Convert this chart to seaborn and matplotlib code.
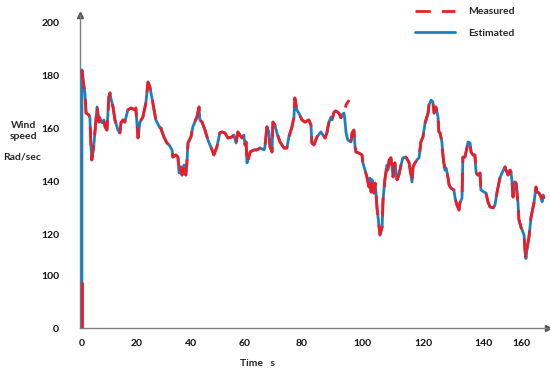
import numpy as np
import pandas as pd
import matplotlib
matplotlib.use("Agg")
import matplotlib.pyplot as plt
from matplotlib.lines import Line2D
import seaborn as sns

# time (s) and estimated wind speed (rad/sec)
time_s = [
    0, 0, 0.4, 1.1, 1.5, 2.5, 2.9, 3.3, 3.6, 4.4, 5.1, 5.5, 6.2, 6.5, 7.3, 8.0, 8.4, 9.1, 9.8, 10.2,
    10.5, 11.3, 12.0, 13.1, 13.8, 14.2, 14.9, 15.6, 16.7, 17.8, 19.3, 19.6, 20.4, 21.1, 22.2, 23.3, 24.1, 24.8, 25.9, 27.0,
    28.5, 28.9, 29.3, 30.0, 31.1, 31.9, 33.0, 33.3, 34.4, 35.2, 35.6, 36.3, 36.7, 37.4, 38.1, 38.5, 38.9, 40.0, 40.7, 42.2,
    43.0, 43.3, 44.1, 45.2, 46.3, 47.8, 48.5, 49.6, 50.7, 51.5, 52.6, 53.7, 55.2, 55.9, 56.7, 57.4, 58.1, 58.9, 59.6, 60.0,
    60.4, 60.7, 61.4, 61.8, 63.2, 64.2, 65.3, 66.7, 67.0, 67.7, 68.4, 68.8, 69.5, 69.8, 70.5, 71.2, 72.3, 73.7, 74.7, 75.4,
    76.5, 77.2, 77.5, 78.2, 78.9, 80.0, 81.0, 82.3, 83.0, 83.3, 84.0, 85.0, 86.3, 87.0, 87.7, 88.3, 89.0, 89.7, 90.0, 90.7,
    91.3, 92.3, 93.0, 93.3, 94.0, 94.3, 94.7, 95.3, 96.3, 96.7, 97.3, 97.7, 98.0, 99.0, 100.0, 100.3, 101.0, 101.6, 102.3, 102.6,
    103.0, 103.3, 103.9, 104.3, 104.6, 104.9, 105.6, 105.9, 106.6, 106.9, 107.5, 108.2, 108.5, 108.9, 109.5, 110.2, 110.5, 110.8, 111.5, 112.1,
    112.8, 113.4, 114.4, 115.4, 115.7, 116.4, 116.7, 117.0, 118.0, 118.7, 119.3, 120.0, 120.7, 121.7, 122.0, 122.7, 123.3, 123.7, 124.3, 125.0,
    125.3, 125.7, 126.3, 126.7, 127.3, 127.7, 128.3, 128.7, 129.3, 130.3, 130.7, 131.3, 132.0, 132.3, 133.0, 133.3, 134.0, 134.7, 135.0, 135.7,
    136.0, 136.7, 137.3, 137.7, 138.3, 139.0, 139.3, 140.5, 141.6, 142.6, 143.7, 145.3, 146.3, 147.4, 148.9, 150.0, 151.6, 152.1, 153.2, 154.2,
    154.7, 155.3, 155.8, 156.3, 156.8, 157.4, 158.4, 158.9, 160.0, 161.6, 162.1, 162.6, 163.2, 164.2, 165.3, 166.8, 167.9, 168.4, 169.5, 170.5,
    171.1, 171.6, 172.1,
]
estimated = [
    0, 182.3, 178.5, 173.6, 166.0, 165.3, 164.2, 153.2, 148.3, 154.7, 163.4, 168.3, 162.6, 164.2, 162.3, 163.4, 160.8, 159.6, 172.1, 173.6,
    171.7, 168.3, 163.4, 159.6, 158.5, 162.3, 163.4, 162.6, 167.2, 167.9, 167.2, 167.9, 156.6, 162.6, 164.5, 169.8, 177.7, 175.8, 169.8, 163.4,
    160.4, 160.4, 158.9, 157.0, 154.7, 154.0, 152.1, 149.4, 150.2, 149.4, 143.4, 145.7, 142.6, 146.4, 142.6, 147.2, 154.7, 157.0, 160.8, 164.5,
    168.3, 163.4, 162.6, 159.6, 155.8, 152.1, 150.2, 153.2, 158.5, 158.9, 158.5, 156.6, 157.0, 157.7, 154.7, 158.9, 157.7, 156.6, 157.7, 154.0,
    155.1, 147.2, 149.4, 151.3, 152.1, 152.1, 152.8, 152.1, 153.2, 160.8, 158.9, 153.2, 151.3, 162.6, 161.5, 158.5, 155.1, 152.8, 152.8, 157.0,
    160.8, 164.5, 171.7, 167.2, 166.0, 163.4, 162.6, 163.4, 161.5, 154.7, 154.0, 157.0, 158.9, 157.7, 156.6, 158.5, 162.6, 164.5, 163.4, 166.4,
    166.8, 166.0, 164.2, 165.3, 166.0, 163.4, 158.5, 155.8, 155.1, 158.5, 159.6, 153.2, 151.3, 150.9, 150.2, 147.2, 144.5, 141.9, 138.1, 141.5,
    136.2, 140.8, 135.8, 139.6, 135.8, 130.6, 123.0, 120.0, 123.0, 133.2, 140.8, 146.4, 144.5, 148.3, 149.1, 141.9, 146.4, 147.2, 140.8, 142.6,
    146.4, 149.1, 149.4, 147.5, 145.3, 140.0, 145.3, 146.4, 148.3, 149.1, 155.1, 157.0, 162.3, 166.0, 169.1, 170.9, 170.2, 166.0, 168.3, 164.5,
    158.9, 158.5, 155.1, 149.4, 144.5, 145.3, 141.9, 138.9, 137.7, 137.0, 134.0, 131.3, 129.4, 132.1, 134.0, 149.4, 149.4, 153.2, 155.1, 154.7,
    151.3, 150.2, 150.2, 143.4, 142.6, 143.4, 137.0, 136.2, 135.8, 132.5, 130.6, 130.2, 131.3, 136.2, 141.5, 143.4, 145.7, 144.5, 142.6, 144.5,
    143.8, 140.0, 134.3, 138.1, 140.0, 139.6, 132.1, 125.7, 123.0, 120.0, 112.5, 108.5, 113.5, 119.0, 126.8, 132.1, 138.1, 136.2, 135.8, 134.3,
    132.5, 135.1, 134.0,
]
assert len(time_s) == len(estimated)

# measured follows the estimate, apart from its start and a short spike near 95 s
measured_start_t = [0, 0]
measured_start_v = [0, 87]
spike_t = [94.7, 95.7]
spike_v = [169.1, 170.9]

xticks = [0, 20, 40, 60, 80, 100, 120, 140, 160]
yticks = [0, 100, 120, 140, 160, 180, 200]

# the original axes are not evenly spaced: where each value sits (in px)
x_key = [-20, 0, 20, 40, 60, 80, 100, 120, 140, 160, 200]
x_px = [-55, 0, 55, 109, 163, 220, 280, 341, 401, 439, 515]
y_key = [-100, 0, 100, 120, 200, 300]
y_px = [-52, 0, 52, 93, 305, 570]

RED = "#f01c24"
BLUE = "#1f7dc3"
DASH = (0, (7, 3.5))

est = pd.DataFrame({"time": time_s, "speed": estimated})
est["seg"] = 0

t = np.array(time_s)
v = np.array(estimated)
start = pd.DataFrame({"time": measured_start_t, "speed": measured_start_v})
keep1 = (t <= 94.0) & (np.arange(len(t)) > 0)
seg1 = pd.DataFrame({"time": list(t[keep1]) + spike_t, "speed": list(v[keep1]) + spike_v, "seg": 1})
keep2 = t >= 96.3
seg2 = pd.DataFrame({"time": t[keep2], "speed": v[keep2], "seg": 2})
meas = pd.concat([seg1, seg2], ignore_index=True)

sns.set_theme(style="white")
plt.rcParams["font.family"] = ["Lato", "DejaVu Sans"]

fig = plt.figure(figsize=(5.5, 3.73), dpi=100)
ax = fig.add_axes([80 / 550, 45 / 373, 468 / 550, 313 / 373])

ax.set_xscale("function", functions=(lambda a: np.interp(a, x_key, x_px),
                                     lambda p: np.interp(p, x_px, x_key)))
ax.set_yscale("function", functions=(lambda a: np.interp(a, y_key, y_px),
                                     lambda p: np.interp(p, y_px, y_key)))

sns.lineplot(data=est, x="time", y="speed", units="seg", estimator=None, sort=False,
             color=BLUE, linewidth=2.0, ax=ax, zorder=3)
sns.lineplot(data=meas, x="time", y="speed", units="seg", estimator=None, sort=False,
             color=RED, linewidth=2.0, linestyle=DASH, ax=ax, zorder=4)
sns.lineplot(data=start, x="time", y="speed", estimator=None, sort=False,
             color=RED, linewidth=2.0, ax=ax, zorder=4)

ax.set_xlim(-0.7, 174.2)
ax.set_ylim(0, 203)
ax.set_xticks(xticks)
ax.set_yticks(yticks)
ax.set_xticklabels([str(x) for x in xticks], fontsize=7.5, fontweight="bold")
ax.set_yticklabels([str(y) for y in yticks], fontsize=7.5, fontweight="bold")
ax.tick_params(axis="x", length=0, pad=8, colors="#111111")
ax.tick_params(axis="y", length=0, pad=15, colors="#111111")
ax.set_xlabel("")
ax.set_ylabel("")

for s in ["top", "right"]:
    ax.spines[s].set_visible(False)
for s in ["left", "bottom"]:
    ax.spines[s].set_color("#808080")
    ax.spines[s].set_linewidth(1.0)
ax.plot(0, 1, marker="^", color="#555555", markersize=4, transform=ax.transAxes, clip_on=False)
ax.plot(1, 0, marker=">", color="#555555", markersize=4, transform=ax.transAxes, clip_on=False)

fig.text(24 / 550, 1 - 131 / 373, "Wind\nspeed", ha="center", va="center",
         fontsize=7.5, fontweight="bold", linespacing=1.3)
fig.text(22 / 550, 1 - 157 / 373, "Rad/sec", ha="center", va="center",
         fontsize=7.5, fontweight="bold")
fig.text(258 / 550, 1 - 363 / 373, "Time   s", ha="center", va="center",
         fontsize=7.5, fontweight="bold")

handles = [Line2D([], [], color=RED, lw=2.0, linestyle=(0, (5.5, 4))),
           Line2D([], [], color=BLUE, lw=2.0)]
fig.legend(handles, ["Measured", "Estimated"], loc="upper left",
           bbox_to_anchor=(415 / 550, 1 - 7 / 373), frameon=False,
           prop={"size": 7.5, "weight": "bold"}, handlelength=3.8,
           handletextpad=1.3, labelspacing=1.2, borderpad=0, borderaxespad=0)

fig.savefig("out.png", dpi=100)
